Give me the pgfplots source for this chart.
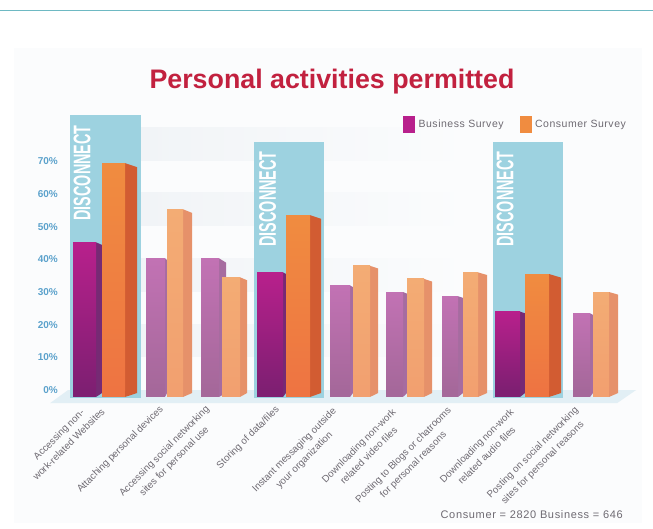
\documentclass[border=0pt]{standalone}
\usepackage{pgfplots}
\pgfplotsset{compat=1.18}
\usepackage{fontspec}
\setmainfont{Liberation Sans}
\definecolor{bizA}{HTML}{B8208C}\definecolor{bizAb}{HTML}{7E1F72}\definecolor{bizAs}{HTML}{762A74}
\definecolor{bizF}{HTML}{C272B4}\definecolor{bizFb}{HTML}{A5689A}\definecolor{bizFs}{HTML}{A66CA0}
\definecolor{conA}{HTML}{F08C40}\definecolor{conAb}{HTML}{EE7442}\definecolor{conAs}{HTML}{D25C32}
\definecolor{conF}{HTML}{F3AC74}\definecolor{conFb}{HTML}{F2A070}\definecolor{conFs}{HTML}{E6916A}
\definecolor{panel}{HTML}{9DD2E0}\definecolor{band}{HTML}{F1F4F7}\definecolor{floorc}{HTML}{E2EFF5}
\definecolor{bgc}{HTML}{FBFCFD}
\definecolor{txt}{HTML}{6E6A72}\definecolor{tick}{HTML}{5CA2CC}\definecolor{ttl}{HTML}{C2213F}
\newcommand{\side}[5]{\addplot[forget plot,fill=#1,draw=none] coordinates {(#2,-2.1)(#3,-0.9)(#3,#5)(#2,#4)} -- cycle;}
\newcommand{\pan}[3]{\addplot[forget plot,fill=panel,draw=none] coordinates {(#1,-2.4)(#2,-2.4)(#2,#3)(#1,#3)} -- cycle;}
\newcommand{\bandp}[2]{\addplot[forget plot,draw=none,left color=band,right color=bgc] coordinates {(141,#1)(470,#1)(470,#2)(141,#2)} -- cycle;}
\newcommand{\barp}[5]{\addplot[forget plot,ybar,bar shift=0pt,bar width=#2,draw=none,top color=#4,bottom color=#5] coordinates {(#1,#3)};
\addplot[forget plot,ybar,bar shift=0pt,bar width=#2,draw=none,fill=#5] coordinates {(#1,-2.1)};}
\begin{document}
\begin{tikzpicture}[x=1pt,y=1pt]
\path[use as bounding box] (0,0) rectangle (653,529);
\fill[white] (0,0) rectangle (653,529);
\fill[bgc] (14,6) rectangle (642,481);
\draw[color=panel!70!teal,line width=0.8pt] (0,519) -- (653,519);
\begin{axis}[
  at={(60pt,133pt)},anchor=south west,scale only axis,
  width=593pt,height=281pt,
  xmin=60,xmax=653,ymin=-1.8,ymax=84.13,
  axis line style={draw=none},clip=false,
  ytick={0,10,20,30,40,50,60,70},
  yticklabels={0\%,10\%,20\%,30\%,40\%,50\%,60\%,70\%},
  yticklabel style={font=\fontsize{10}{10}\selectfont\bfseries,text=tick,inner sep=0pt,xshift=-2pt},
  xtick=\empty,
  major tick length=0pt,
  legend style={draw=none,fill=none,at={(353pt,287pt)},anchor=north west,legend columns=2,inner sep=0pt,font=\fontsize{10.5}{12}\selectfont\addfontfeatures{LetterSpace=5},text=txt,/tikz/every even column/.append style={column sep=14pt}},
  legend cell align=left,
]
% floor
\addplot[forget plot,fill=floorc,draw=none] coordinates {(50,-4)(617,-4)(636,0)(68,0)} -- cycle;
\bandp{70.3}{80.4}\bandp{50.3}{60.3}\bandp{30.3}{40.3}\bandp{10.3}{20}
\pan{70}{141}{84.13}\pan{254}{324}{75.8}\pan{493}{563}{75.8}
% sides
\side{bizAs}{96}{102}{45.2}{44.4}\side{conAs}{125}{137}{69.4}{68.2}
\side{bizFs}{165}{167}{40.3}{39.8}\side{conFs}{183}{192}{55.3}{54.2}
\side{bizFs}{219}{226}{40.3}{39}\side{conFs}{240}{247}{34.5}{33.6}
\side{bizAs}{283}{286}{36}{35.5}\side{conAs}{310}{321}{53.5}{52.4}
\side{bizFs}{350}{353}{32}{31.5}\side{conFs}{370}{378}{38}{37.2}
\side{bizFs}{403}{407}{30}{29.5}\side{conFs}{424}{432}{34}{33.2}
\side{bizFs}{458}{463}{28.7}{28.2}\side{conFs}{478}{487}{36}{35.2}
\side{bizAs}{520}{525}{24}{23.5}\side{conAs}{549}{561}{35.5}{34.4}
\side{bizFs}{590}{593}{23.5}{23}\side{conFs}{609}{618}{30}{29.2}
% fronts
\barp{84.5}{23pt}{45.2}{bizA}{bizAb}\barp{113.5}{23pt}{69.4}{conA}{conAb}
\barp{155.5}{19pt}{40.3}{bizF}{bizFb}\barp{175}{16pt}{55.3}{conF}{conFb}
\barp{210}{18pt}{40.3}{bizF}{bizFb}\barp{231}{18pt}{34.5}{conF}{conFb}
\barp{270}{26pt}{36}{bizA}{bizAb}\barp{298}{24pt}{53.5}{conA}{conAb}
\barp{340}{20pt}{32}{bizF}{bizFb}\barp{361.5}{17pt}{38}{conF}{conFb}
\barp{394.5}{17pt}{30}{bizF}{bizFb}\barp{415.5}{17pt}{34}{conF}{conFb}
\barp{450}{16pt}{28.7}{bizF}{bizFb}\barp{470.5}{15pt}{36}{conF}{conFb}
\barp{507.5}{25pt}{24}{bizA}{bizAb}\barp{537}{24pt}{35.5}{conA}{conAb}
\barp{581.5}{17pt}{23.5}{bizF}{bizFb}\barp{601}{16pt}{30}{conF}{conFb}
\addlegendimage{legend image code/.code={\fill[bizA] (0pt,-8pt) rectangle (11pt,8pt);}}
\addlegendentry{\hspace{2pt}Business Survey}
\addlegendimage{legend image code/.code={\fill[conA] (0pt,-8pt) rectangle (11pt,8pt);}}
\addlegendentry{\hspace{2pt}Consumer Survey}
\end{axis}
\node[text=ttl,font=\fontsize{26.8}{28}\selectfont\bfseries] at (332,447) {Personal activities permitted};
\foreach \x/\y in {82/356,267.5/330,505/330}
  \node[rotate=90,text=white,font=\fontsize{24}{26}\selectfont\bfseries,anchor=center,inner sep=0pt] at (\x,\y) {\scalebox{0.6}[1]{DISCONNECT}};
\tikzset{lab/.style={rotate=45,anchor=east,align=center,font=\fontsize{9.8}{14}\selectfont,text=txt,inner sep=0pt}}
\node[lab] at (98,124) {Accessing non-\\work-related Websites};
\node[lab] at (162,121) {Attaching personal devices};
\node[lab] at (213,116) {Accessing social networking\\sites for personal use};
\node[lab] at (278,121) {Storing of data/files};
\node[lab] at (340,114) {Instant messaging outside\\your organization};
\node[lab] at (399,114) {Downloading non-work\\related video files};
\node[lab] at (455,115) {Posting to Blogs or chatrooms\\for personal reasons};
\node[lab] at (517,114) {Downloading non-work\\related audio files};
\node[lab] at (582,115) {Posting on social networking\\sites for personal reasons};
\node[text=txt,font=\fontsize{11}{12}\selectfont\addfontfeatures{LetterSpace=6},anchor=east,inner sep=0pt] at (623,14) {Consumer = 2820 Business = 646};
\end{tikzpicture}
\end{document}
